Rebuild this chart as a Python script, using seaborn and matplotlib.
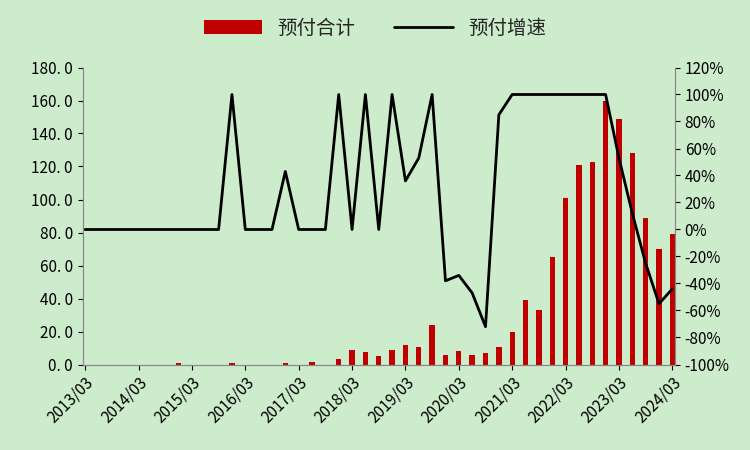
import numpy as np
import pandas as pd
import seaborn as sns
import matplotlib.pyplot as plt
from matplotlib.ticker import FuncFormatter

quarters = [f"{y}/{m:02d}" for y in range(2013, 2025) for m in (3, 6, 9, 12)][:45]

prepay_total = [0, 0, 0, 0, 0, 0, 0, 1, 0, 0, 0, 1, 0, 0, 0, 1,
                0, 1.5, 0, 3.5, 8.5, 7.5, 5, 9, 12, 10.5, 24, 5.5, 8, 6,
                7, 10.5, 20, 39, 33, 65, 101, 121, 123, 160, 149, 128, 89, 70, 79]
prepay_growth = [0, 0, 0, 0, 0, 0, 0, 0, 0, 0, 0, 100, 0, 0, 0, 43,
                 0, 0, 0, 100, 0, 100, 0, 100, 36, 53, 100, -38, -34, -47,
                 -72, 85, 100, 100, 100, 100, 100, 100, 100, 100, 53, 12, -25, -55, -44]

df = pd.DataFrame({"quarter": quarters, "total": prepay_total, "growth": prepay_growth})

bg = "#cdeccc"
sns.set_style("ticks")
plt.rcParams['font.family'] = ['Noto Sans CJK SC', 'DejaVu Sans']

fig, ax = plt.subplots(figsize=(7.5, 4.5), dpi=100)
fig.patch.set_facecolor(bg)
ax.set_facecolor(bg)

sns.barplot(data=df, x="quarter", y="total", color="#c00000", width=0.4,
            saturation=1, linewidth=0, ax=ax, label="预付合计")
ax.set_ylim(0, 180)
ax.set_yticks(np.arange(0, 181, 20))
ax.yaxis.set_major_formatter(FuncFormatter(lambda v, p: f"{v:.1f}".replace(".", ". ")))
ax.set_xlim(-0.2, 44.2)
ax.set_xticks(range(0, 45, 4))
ax.set_xticklabels(quarters[::4], rotation=45, ha="right", rotation_mode="anchor")
ax.set_xlabel("")
ax.set_ylabel("")

ax2 = ax.twinx()
sns.lineplot(x=np.arange(45), y=df["growth"], color="black", linewidth=2,
             ax=ax2, label="预付增速")
ax2.set_ylim(-100, 120)
ax2.set_yticks(np.arange(-100, 121, 20))
ax2.yaxis.set_major_formatter(FuncFormatter(lambda v, p: f"{v:.0f}%"))
ax2.set_ylabel("")
ax2.get_legend().remove()

for a in (ax, ax2):
    a.spines["top"].set_visible(False)
    a.tick_params(labelsize=11, colors="black")
    for s in a.spines.values():
        s.set_color("#888888")

h1, l1 = ax.get_legend_handles_labels()
h2, l2 = ax2.get_legend_handles_labels()
fig.legend(h1 + h2, l1 + l2, loc="upper center", ncol=2, frameon=False,
           fontsize=14, bbox_to_anchor=(0.5, 1.0), handlelength=3)
if ax.get_legend():
    ax.get_legend().remove()

fig.subplots_adjust(left=0.11, right=0.9, top=0.85, bottom=0.19)
fig.savefig("out.png", facecolor=bg)
